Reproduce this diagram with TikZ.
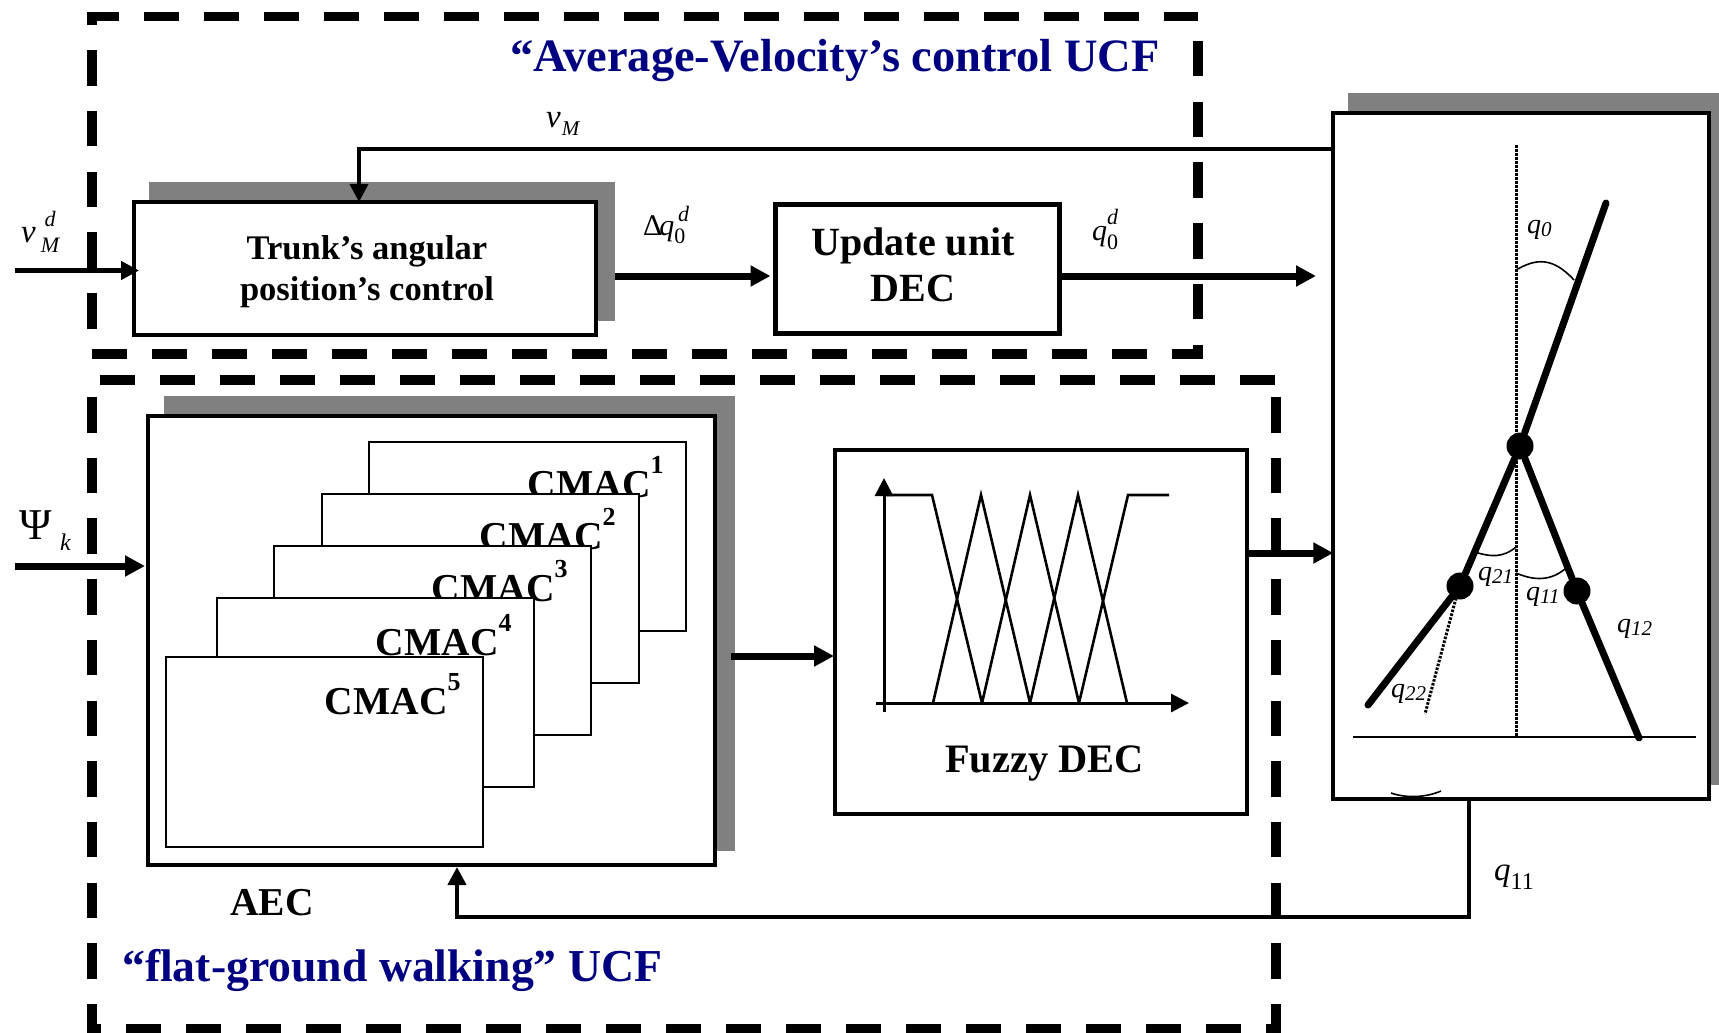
\documentclass[tikz,border=0pt]{standalone}
\usepackage{fontspec}
\setmainfont{Liberation Serif}
\usetikzlibrary{%
    arrows.meta,
    calc,
    positioning
}
\definecolor{ucfblue}{HTML}{000080}
\newcommand{\fsize}[1]{\fontsize{#1}{#1}\selectfont}
\newcommand{\supsub}[4]{\rlap{\raisebox{-#4pt}{\fsize{22}#2}}\raisebox{#3pt}{\fsize{22}#1}}
\newcommand{\jointq}[1]{\textit{q}\raisebox{-3pt}{\fsize{21}\textit{#1}}}
\tikzset{
    bigarrow/.style = {line width=7pt, -{Triangle[length=20pt,width=20pt]}},
    thinarrow/.style = {line width=4pt, -{Triangle[length=18pt,width=18pt]}}
}

\begin{document}
\begin{tikzpicture}[
    x=1pt, y=-1pt,
    ucfh/.style = {line width=9.5pt, dash pattern=on 35pt off 25pt},
    ucfv/.style = {line width=9.5pt, dash pattern=on 35.5pt off 25.2pt},
    shadowbox/.style = {fill=gray, draw=none, minimum width=#1, inner sep=0pt, outer sep=0pt},
    block/.style = {draw, fill=white, line width=4pt, inner sep=0pt},
    cmacbox/.style = {draw, fill=white, line width=2pt, minimum width=317pt, minimum height=189.5pt},
    cmaclabel/.style = {anchor=base west, inner sep=0pt, font=\fsize{39.5}\bfseries},
    titlelabel/.style = {anchor=base west, inner sep=0pt, text=ucfblue, font=\fsize{45.7}\bfseries},
    plainlabel/.style = {anchor=base west, inner sep=0pt, font=\fsize{30}},
    anglelabel/.style = {anchor=base west, inner sep=0pt, font=\fsize{28}},
    joint/.style = {circle, fill=black, minimum size=27pt, inner sep=0pt},
    limb/.style = {line width=7pt, line cap=round},
    dottedline/.style = {line width=3pt, dash pattern=on 2.5pt off 1.5pt},
    anglearc/.style = {line width=1.6pt},
    member/.style = {line width=2.6pt}]
    \useasboundingbox (0,0) rectangle (1719,1033);

    % average velocity frame
    \draw[ucfh, dash phase=3.8pt] (87.3,16.5) -- (1198,16.5);
    \draw[ucfv] (92,328.5) -- (92,12);
    \draw[ucfv] (1198,41) -- (1198,359);
    \draw[ucfh, dash phase=4.3pt] (1202.7,354) -- (92,354);

    % flat ground frame
    \draw[ucfh] (100,380) -- (1276,380);
    \draw[ucfv] (92,397) -- (92,1034);
    \draw[ucfv] (1276,397) -- (1276,1034);
    \draw[ucfh, dash phase=29.5pt] (1271.5,1029) -- (87.5,1029);

    % grey shadows
    \node[shadowbox=466pt, minimum height=139pt] (trunkshade) at (382,251.5) {};
    \node[shadowbox=571pt, minimum height=455pt] (aecshade) at (449.5,623.5) {};
    \node[shadowbox=371pt, minimum height=692pt] (robotshade) at (1533.5,439) {};

    % blocks
    \node[block, minimum width=462pt, minimum height=133pt] (trunk) at (365,268.5) {};
    \node[block, line width=5pt, minimum width=284pt, minimum height=129pt] (update) at (917,268.5) {};
    \node[block, minimum width=567pt, minimum height=449pt] (aec) at (431.5,640.5) {};
    \node[block, minimum width=412pt, minimum height=364pt] (fuzzy) at (1041,632) {};
    \node[block, line width=3.5pt, minimum width=376pt, minimum height=686pt] (robot) at (1521,456) {};

    \node[align=center, inner sep=0pt, font=\fontsize{34.5}{41}\selectfont\bfseries]
        (trunklabel) at (367,272) {Trunk’s angular\\position’s control};
    \node[align=center, inner sep=0pt, font=\fontsize{40}{46}\selectfont\bfseries]
        (updatelabel) at (913,265) {Update unit\\DEC};

    % stacked tables
    \foreach \i/\cx/\cy/\tx/\ty in {1/527.5/536.5/527.5/497, 2/480/588.5/479.5/549, 3/432/640.5/431.5/601,
        4/375.5/692.5/375.5/655, 5/324/752/324.5/714} {
        \node[cmacbox] (cmac\i) at (\cx,\cy) {};
        \node[cmaclabel] (cmaclabel\i) at (\tx,\ty) {CMAC\raisebox{24pt}{\fsize{26}\i}};
    }

    \node[titlelabel, font=\fsize{46.4}\bfseries] (avgtitle) at (510,71) {“Average-Velocity’s control UCF};
    \node[titlelabel] (flattitle) at (122,981) {“flat-ground walking” UCF};
    \node[cmaclabel] (aeclabel) at (230,915) {AEC};
    \node[cmaclabel, font=\fsize{40.4}\bfseries] (fuzzylabel) at (945,772) {Fuzzy DEC};

    % signal labels
    \node[plainlabel, font=\fsize{33}] (vmlabel) at (546,127)
        {\textit{v}\raisebox{-8pt}{\fsize{21}\hspace{1pt}\textit{M}}};
    \node[plainlabel, font=\fsize{33}] (vmdlabel) at (21,242)
        {\textit{v}\hspace{5pt}\supsub{\,\textit{d}}{\textit{M}}{16}{10}};
    \node[plainlabel] (dqlabel) at (643,235) {Δ\hspace{-3pt}\textit{q}\supsub{\,\textit{d}}{0}{14}{8}};
    \node[plainlabel] (qdlabel) at (1092,240) {\textit{q}\supsub{\textit{d}}{0}{16}{9}};
    \node[plainlabel, font=\fsize{44}] (psilabel) at (19,539) {Ψ};
    \node[plainlabel, font=\fsize{24}\itshape] (klabel) at (60,550) {k};
    \node[plainlabel, font=\fsize{33}] (q11label) at (1494,880)
        {\textit{q}\raisebox{-9pt}{\fsize{24}11}};

    % membership functions
    \draw[line width=3pt, -{Triangle[length=18pt,width=18pt]}] (884,712) -- (884,478);
    \draw[line width=3pt, -{Triangle[length=18pt,width=18pt]}] (876,703) -- (1189,703);
    \draw[member] (884,495) -- (932,495) -- (982,703);
    \draw[member] (933,703) -- (981,495) -- (1030,703);
    \draw[member] (982,703) -- (1030,495) -- (1079,703);
    \draw[member] (1030,703) -- (1078,495) -- (1127,703);
    \draw[member] (1079,703) -- (1128,495) -- (1169,495);

    % robot
    \coordinate (head) at (1606,203);
    \coordinate (leftfoot) at (1368,705);
    \coordinate (rightfoot) at (1639,738);
    \node[joint] (hip) at (1520,446) {};
    \node[joint] (leftknee) at (1460,586) {};
    \node[joint] (rightknee) at (1577,591) {};
    \draw[dottedline] (1516,145) -- (1516,736);
    \draw[dottedline] (1456,598) -- (1425,714);
    \draw[line width=2pt] (1353,737) -- (1696,737);
    \draw[limb] (head) -- (hip);
    \draw[limb] (hip) -- (leftknee) -- (leftfoot);
    \draw[limb] (hip) -- (rightknee) -- (rightfoot);

    \draw[anglearc] (1516,270) .. controls (1535,259) and (1552,256) .. (1574,280);
    \draw[anglearc] (1475,552) .. controls (1490,557) and (1503,558) .. (1516,547);
    \draw[anglearc] (1516,573) .. controls (1530,579) and (1548,583) .. (1565,569);
    \draw[anglearc] (1391,793) .. controls (1405,798) and (1425,798) .. (1441,791);

    \node[anglelabel] (q0label) at (1527,233) {\jointq{0}};
    \node[anglelabel] (q21label) at (1478,580) {\jointq{21}};
    \node[anglelabel] (q11label2) at (1526,600) {\jointq{11}};
    \node[anglelabel] (q12label) at (1617,632) {\jointq{12}};
    \node[anglelabel] (q22label) at (1391,697) {\jointq{22}};

    % connectors
    \coordinate (vmdstart) at (15,270.5);
    \coordinate (psistart) at (15,566);
    \coordinate (vmstart) at (1333,149);
    \coordinate (updatein) at ([yshift=-7.5pt]update.west);
    \coordinate (robotout) at (1316,276);
    \coordinate (fuzzyin) at ([yshift=-24pt]fuzzy.west);
    \coordinate (robotin) at ([yshift=-97pt]robot.west);
    \coordinate (feedback) at (457,917);

    \draw[line width=5pt, -{Triangle[length=18pt,width=18pt]}, shorten >=-7pt]
        (vmdstart) -- (vmdstart -| trunk.west);
    \draw[bigarrow, shorten >=1pt] (psistart) -- (psistart -| aec.west);
    \draw[thinarrow, shorten >=-2pt] (vmstart) -| ([xshift=-6pt]trunk.north);
    \draw[bigarrow, shorten >=2pt] (trunkshade.east |- updatein) -- (updatein);
    \draw[bigarrow] (update.east |- robotout) -- (robotout);
    \draw[bigarrow, shorten >=-1pt] ($(aecshade.east |- fuzzyin)+(-4,0)$) -- (fuzzyin);
    \draw[bigarrow, shorten >=-2pt] (fuzzy.east |- robotin) -- (robotin);
    \draw[thinarrow] ([xshift=-52pt]robot.south) |- (feedback) -- ([xshift=25.5pt]aec.south);
\end{tikzpicture}
\end{document}
